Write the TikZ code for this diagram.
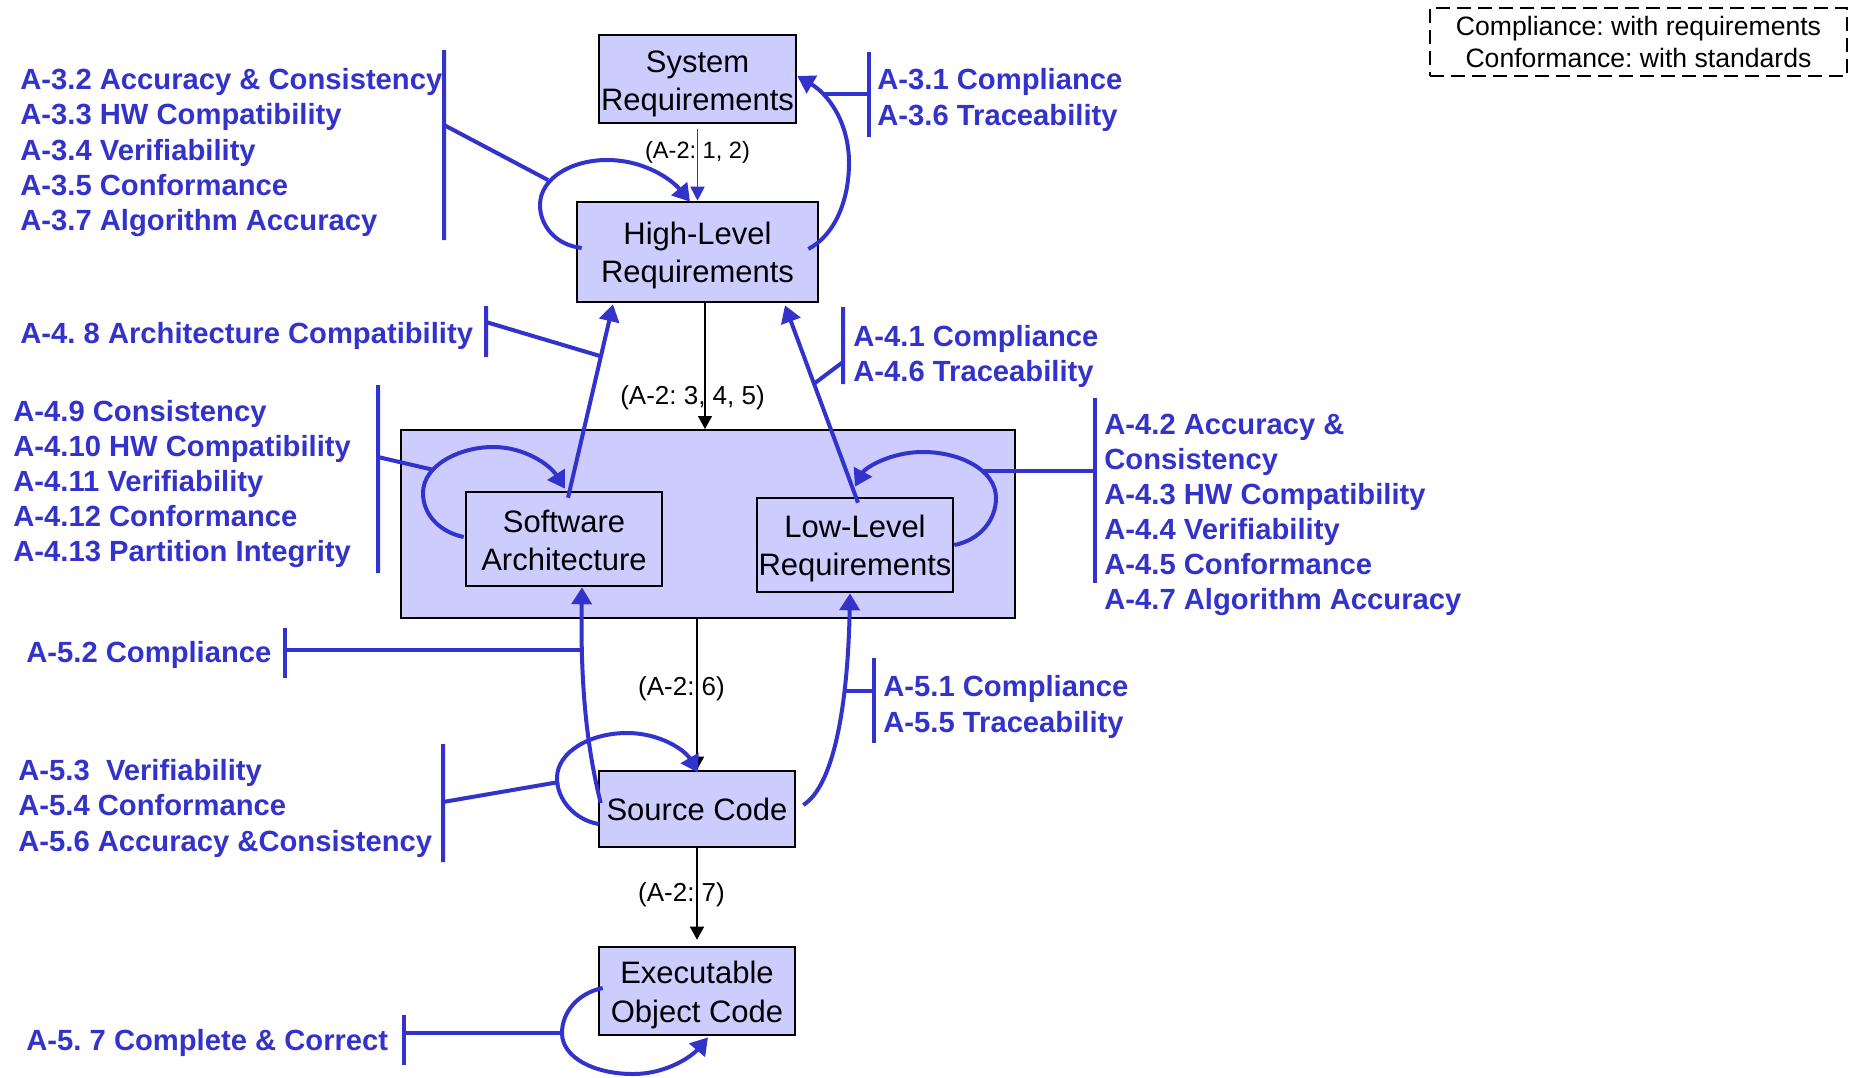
\documentclass[tikz,border=0pt]{standalone}
\usepackage{fontspec}
\setmainfont{Liberation Sans}
\frenchspacing
\usetikzlibrary{arrows.meta,calc}
\definecolor{doblue}{RGB}{51,51,204}
\definecolor{dofill}{RGB}{204,204,255}
% invisible strut that lowers the first line of a box caption a little
\newcommand{\toproom}[1]{\rule{0pt}{#1}}
\begin{document}
\begin{tikzpicture}[x=0.5pt,y=-0.5pt,
  artifact/.style={draw=black,line width=1.3pt,fill=dofill,inner sep=0pt,align=center,
    font=\fontsize{15.5}{19.2}\selectfont},
  group/.style={draw=black,line width=1pt,fill=dofill,inner sep=0pt},
  objective/.style={text=doblue,font=\fontsize{14.6}{17.6}\selectfont\bfseries,anchor=base west,inner sep=0pt},
  tablelbl/.style={font=\fontsize{13}{15}\selectfont,anchor=base,inner sep=0pt},
  flow/.style={draw=black,line width=0.7pt,-{Triangle[length=6.5pt,width=7pt]}},
  check/.style={draw=doblue,line width=2pt,-{Triangle[length=8.5pt,width=10pt]}},
  bracket/.style={draw=doblue,line width=2pt},
]
\useasboundingbox (0,0) rectangle (1851,1077);

% life-cycle data items
\node[artifact,minimum width=98.5pt,minimum height=44pt] (sysreq) at (697.5,79) {\toproom{15.5pt}System\\Requirements};
\node[artifact,minimum width=120.5pt,minimum height=50pt] (hlr) at (697.5,252) {\toproom{15pt}High-Level\\Requirements};
\node[group,minimum width=307pt,minimum height=94pt] (cont) at (708,524) {};
\node[artifact,minimum width=98pt,minimum height=47pt] (sa) at (564,539) {\toproom{12.5pt}Software\\Architecture};
\node[artifact,minimum width=98pt,minimum height=47pt] (llr) at (855,545) {\toproom{15pt}Low-Level\\Requirements};
\node[artifact,minimum width=98pt,minimum height=38pt] (sc) at (697,809) {Source Code};
\node[artifact,minimum width=98pt,minimum height=44pt] (eoc) at (697,991) {\toproom{15pt}Executable\\Object Code};

% legend
\node[draw=black,line width=1pt,dash pattern=on 7pt off 3.5pt,minimum width=208.5pt,minimum height=34pt,
  inner sep=0pt,align=center,font=\fontsize{13.3}{16}\selectfont] (legend) at (1638.5,42)
  {Compliance: with requirements\\Conformance: with standards};

% development flow (A-2)
\draw[doblue,line width=0.9pt,-{Triangle[length=7pt,width=7pt]}] ([yshift=-2.5pt]sysreq.south) -- (hlr.north);
\coordinate (hlrout) at ($(hlr.south)+(7.5,0)$);
\coordinate (grpin) at (hlrout |- cont.north);
\draw[flow] (hlrout) -- (grpin);
\draw[flow] (sc.north |- cont.south) -- (sc.north);
\draw[flow,shorten >=3pt] (sc.south) -- (eoc.north);

\node[font=\fontsize{11.8}{14}\selectfont,anchor=base,inner sep=0pt] (a12) at (697.5,158) {(A-2: 1, 2)};
\node[tablelbl] (a345) at (692.5,404) {(A-2: 3, 4, 5)};
\node[tablelbl] (a6) at (681.5,695) {(A-2: 6)};
\node[tablelbl] (a7) at (681.5,901.7) {(A-2: 7)};

% verification checks
\draw[check] ($(hlr.west)+(6,-4)$) .. controls (555,245) and (540,225) .. (540,205)
  .. controls (540,178) and (572,160) .. (607,160)
  .. controls (645,160) and (672,180) .. ($(hlr.north)+(-7.5,1)$);
\draw[check] ($(hlr.east)+(-11,-3)$) .. controls (835,235) and (849,200) .. (849,163)
  .. controls (849,122) and (828,94) .. ($(sysreq.east)+(0,-3)$);
\draw[check] ($(sa.north)+(4,7)$) -- ($(hlr.south)+(-84.5,1)$);
\draw[check] ($(llr.north)+(3,6)$) -- ($(hlr.south)+(87.5,2)$);
\draw[check] ($(sa.west)+(-1,-2)$) .. controls (440,532) and (423,515) .. (423,493)
  .. controls (423,465) and (460,447) .. (493,447)
  .. controls (525,447) and (550,465) .. ($(sa.north)+(1,-2)$);
\draw[check] (llr.east) .. controls (980,540) and (996,520) .. (996,498)
  .. controls (996,470) and (960,452) .. (923,452)
  .. controls (890,452) and (865,468) .. ($(llr.north)+(0,-10)$);
\draw[check] ($(sc.west)+(1,15)$) .. controls (575,820) and (557,800) .. (557,778)
  .. controls (557,752) and (590,733) .. (627,733)
  .. controls (660,733) and (685,750) .. ($(sc.north)+(1,3)$);
\draw[check] ($(eoc.west)+(5,-3)$) .. controls (578,993) and (562,1012) .. (562,1033)
  .. controls (562,1058) and (595,1074) .. (633,1074)
  .. controls (668,1074) and (693,1055) .. ($(eoc.south)+(11,1)$);
\draw[check] ($(sc.west)+(3,-6)$) .. controls (590,760) and (580,700) .. ($(sa.south)+(18,0)$);
\draw[check] ($(sc.east)+(7,-4)$) .. controls (835,785) and (848,700) .. ($(llr.south)+(-5,0)$);

% objective brackets
\draw[bracket] (444,50) -- (444,240) (444,125) -- (548,180);
\draw[bracket] (869,52) -- (869,137) (822,94) -- (869,94);
\draw[bracket] (486,306) -- (486,357) (486,322) -- (600,356);
\draw[bracket] (843,307) -- (843,384) (843,362) -- (815,383);
\draw[bracket] (378,385) -- (378,573) (378,457) -- (434,470);
\draw[bracket] (1095,398) -- (1095,583) (981,471) -- (1095,471);
\draw[bracket] (285,628) -- (285,678) (285,650) -- (580,650);
\draw[bracket] (874,658) -- (874,743) (845,691) -- (874,691);
\draw[bracket] (443,744) -- (443,862) (443,802) -- (559,782);
\draw[bracket] (404,1015) -- (404,1065) (404,1033) -- (562,1033);

% objectives, table A-3
\node[objective] (o32) at (20,89.5) {A-3.2 Accuracy \& Consistency};
\node[objective] (o33) at (20,124.8) {A-3.3 HW Compatibility};
\node[objective] (o34) at (20,160.1) {A-3.4 Verifiability};
\node[objective] (o35) at (20,195.4) {A-3.5 Conformance};
\node[objective] (o37) at (20,230.7) {A-3.7 Algorithm Accuracy};
\node[objective] (o31) at (877,89.3) {A-3.1 Compliance};
\node[objective] (o36) at (877,125) {A-3.6 Traceability};

% objectives, table A-4
\node[objective] (o48) at (20,343) {A-4. 8 Architecture Compatibility};
\node[objective] (o49) at (13,421) {A-4.9 Consistency};
\node[objective] (o410) at (13,456.2) {A-4.10 HW Compatibility};
\node[objective] (o411) at (13,491.4) {A-4.11 Verifiability};
\node[objective] (o412) at (13,526.6) {A-4.12 Conformance};
\node[objective] (o413) at (13,561.8) {A-4.13 Partition Integrity};
\node[objective] (o41) at (853,346) {A-4.1 Compliance};
\node[objective] (o46) at (853,381) {A-4.6 Traceability};
\node[objective] (o42) at (1104,434) {A-4.2 Accuracy \&};
\node[objective] (o42b) at (1104,469) {Consistency};
\node[objective] (o43) at (1104,504) {A-4.3 HW Compatibility};
\node[objective] (o44) at (1104,539) {A-4.4 Verifiability};
\node[objective] (o45) at (1104,574) {A-4.5 Conformance};
\node[objective] (o47) at (1104,609) {A-4.7 Algorithm Accuracy};

% objectives, table A-5
\node[objective] (o52) at (26,662.7) {A-5.2 Compliance};
\node[objective] (o53) at (18,780.7) {A-5.3~~Verifiability};
\node[objective] (o54) at (18,815.9) {A-5.4 Conformance};
\node[objective] (o56) at (18,851.1) {A-5.6 Accuracy \&Consistency};
\node[objective] (o57) at (26,1050.7) {A-5. 7 Complete \& Correct};
\node[objective] (o51) at (883,696.7) {A-5.1 Compliance};
\node[objective] (o55) at (883,732.7) {A-5.5 Traceability};
\end{tikzpicture}
\end{document}
